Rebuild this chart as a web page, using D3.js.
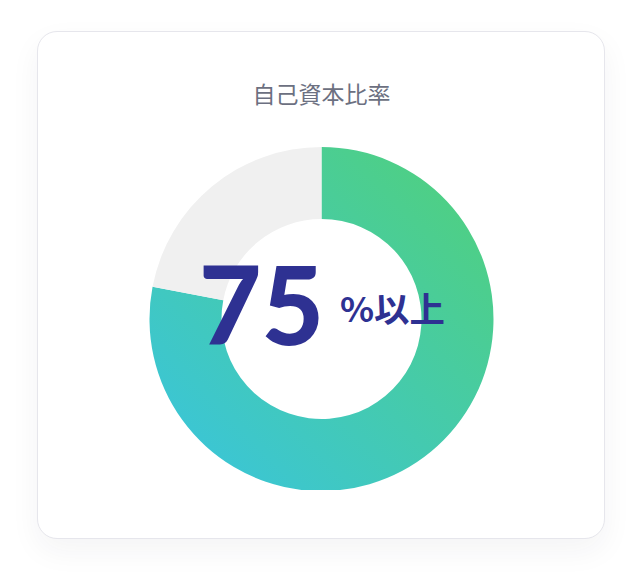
<!DOCTYPE html>
<html lang="ja">
<head>
<meta charset="utf-8">
<script src="https://cdn.jsdelivr.net/npm/d3@7"></script>
<style>
  html, body { margin: 0; padding: 0; background: #fff; }
  body { width: 642px; height: 582px; position: relative; overflow: hidden; }
  .card {
    position: absolute; left: 37px; top: 31px; width: 566px; height: 506px;
    border: 1px solid #e6e6ec; border-radius: 20px; background: #fff;
    box-shadow: 0 12px 30px rgba(30, 30, 60, 0.05);
  }
  #chart { position: absolute; left: 0; top: 0; }
</style>
</head>
<body>
<div class="card"></div>
<div id="chart"></div>
<script>
// Data
const title = "自己資本比率";
const labels = ["自己資本", "その他"];
const values = [78, 22];
const bigNumber = "75";
const unitText = "%以上";

const W = 642, H = 582;
const cx = 321.5, cy = 319;
const outerR = 172, innerR = 100;

const svg = d3.select("#chart").append("svg")
    .attr("width", W)
    .attr("height", H);

const defs = svg.append("defs");
// gradient in the donut group's coordinates (origin = centre)
const grad = defs.append("linearGradient")
    .attr("id", "ring-grad")
    .attr("gradientUnits", "userSpaceOnUse")
    .attr("x1", 150).attr("y1", -150)
    .attr("x2", -148).attr("y2", 148);
grad.append("stop").attr("offset", "0%").attr("stop-color", "#50d07e");
grad.append("stop").attr("offset", "100%").attr("stop-color", "#3ac5da");

// donut is cut flat at the bottom
defs.append("clipPath").attr("id", "clip")
    .append("rect")
    .attr("x", 0).attr("y", 0)
    .attr("width", W).attr("height", 490);

// Title
svg.append("text")
    .attr("x", cx)
    .attr("y", 103)
    .attr("text-anchor", "middle")
    .attr("font-family", "'Noto Sans CJK JP', 'Noto Sans', sans-serif")
    .attr("font-size", 23)
    .attr("fill", "#6c7081")
    .text(title);

const pie = d3.pie().sort(null).value(d => d);
const arc = d3.arc().innerRadius(innerR).outerRadius(outerR);

const g = svg.append("g")
    .attr("clip-path", "url(#clip)")
    .append("g")
    .attr("transform", `translate(${cx},${cy})`);

g.selectAll("path")
    .data(pie(values))
    .join("path")
    .attr("d", arc)
    .attr("fill", (d, i) => i === 0 ? "url(#ring-grad)" : "#f0f0f0");

// Center label
svg.append("text")
    .attr("x", 199)
    .attr("y", 345)
    .attr("textLength", 125)
    .attr("lengthAdjust", "spacingAndGlyphs")
    .attr("font-family", "Lato, 'Open Sans', sans-serif")
    .attr("font-weight", 900)
    .attr("font-size", 108)
    .attr("fill", "#2e3192")
    .text(bigNumber);

svg.append("text")
    .attr("x", 340)
    .attr("y", 322)
    .attr("textLength", 105)
    .attr("lengthAdjust", "spacingAndGlyphs")
    .attr("font-family", "'Noto Sans CJK JP', sans-serif")
    .attr("font-weight", 600)
    .attr("font-size", 34)
    .attr("fill", "#2e3192")
    .text(unitText);
</script>
</body>
</html>
